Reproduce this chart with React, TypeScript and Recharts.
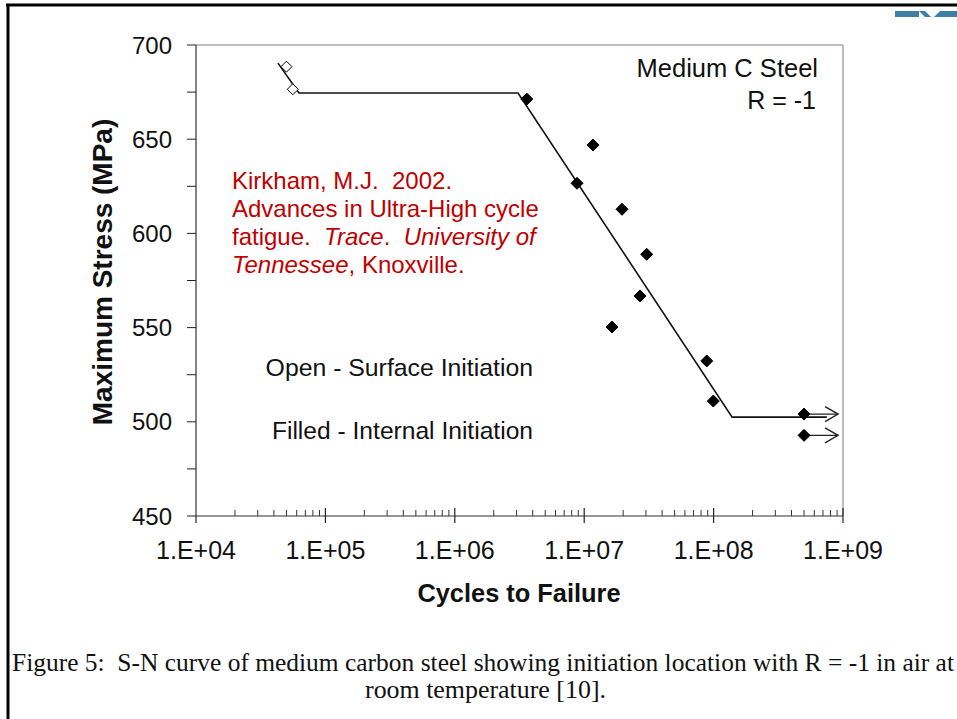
import React from "react";
import { ScatterChart, Scatter, XAxis, YAxis, ReferenceLine } from "recharts";

// axis ticks
const decades = [1e4, 1e5, 1e6, 1e7, 1e8, 1e9];
const decadeLabels = ["1.E+04", "1.E+05", "1.E+06", "1.E+07", "1.E+08", "1.E+09"];
const minorSteps = [2, 3, 4, 5, 6, 7, 8, 9];
const stressTicks = [450, 475, 500, 525, 550, 575, 600, 625, 650, 675, 700];

// open diamonds - surface initiation
const surfaceCycles = [5.0e4, 5.6e4];
const surfaceStress = [688.5, 676.5];

// filled diamonds - internal initiation
const internalCycles = [3.6e6, 1.17e7, 8.8e6, 1.96e7, 3.04e7, 2.7e7, 1.64e7, 8.85e7, 9.95e7, 5.0e8, 5.0e8];
const internalStress = [671.3, 646.9, 626.6, 612.8, 588.9, 566.8, 550.3, 532.3, 511.0, 504.1, 492.8];
const internalRunout = [false, false, false, false, false, false, false, false, false, true, true];

// fitted S-N curve
const curveCycles = [4.3e4, 6.25e4, 3.08e6, 1.39e8, 7.5e8];
const curveStress = [690.4, 674.5, 674.5, 502.5, 502.5];

const xTicks: number[] = [];
decades.forEach((d, i) => {
  xTicks.push(d);
  if (i < decades.length - 1) minorSteps.forEach((m) => xTicks.push(d * m));
});

const surfaceData = surfaceCycles.map((n, i) => ({ n, s: surfaceStress[i] }));
const internalData = internalCycles.map((n, i) => ({
  n,
  s: internalStress[i],
  runout: internalRunout[i],
}));
const curveData = curveCycles.map((n, i) => ({ n, s: curveStress[i] }));

const sans = "'Liberation Sans', Arial, sans-serif";
const serif = "'Liberation Serif', 'Times New Roman', serif";
const red = "#c00000";
const sp2 = "\u00a0 ";

const XTick = (props: any) => {
  const { x, y, payload } = props;
  const idx = decades.findIndex((d) => Math.abs(d - payload.value) < d * 1e-6);
  if (idx < 0) {
    return <line x1={x} x2={x} y1={y} y2={y - 6} stroke="#333" strokeWidth={1} />;
  }
  return (
    <g>
      <line x1={x} x2={x} y1={idx === 0 ? y : y - 8} y2={y + 7} stroke="#222" strokeWidth={1.2} />
      <text x={x} y={y + 43} textAnchor="middle" fontFamily={sans} fontSize={25} fill="#111">
        {decadeLabels[idx]}
      </text>
    </g>
  );
};

const YTick = (props: any) => {
  const { x, y, payload } = props;
  const major = payload.value % 50 === 0;
  return (
    <g>
      <line x1={x - 9} x2={x} y1={y} y2={y} stroke="#222" strokeWidth={1} />
      {major && (
        <text x={x - 24} y={y + 8.5} textAnchor="end" fontFamily={sans} fontSize={24} fill="#111">
          {payload.value}
        </text>
      )}
    </g>
  );
};

const Diamond = ({ cx, cy, open }: { cx: number; cy: number; open?: boolean }) => {
  const r = open ? 5.5 : 6;
  return (
    <polygon
      points={`${cx},${cy - r} ${cx + r},${cy} ${cx},${cy + r} ${cx - r},${cy}`}
      fill={open ? "#fff" : "#000"}
      stroke="#000"
      strokeWidth={1}
    />
  );
};

const InternalShape = (props: any) => {
  const { cx, cy, payload } = props;
  return (
    <g>
      {payload && payload.runout && (
        <g stroke="#222" strokeWidth={1.4} fill="none">
          <line x1={cx} x2={cx + 34} y1={cy} y2={cy} />
          <polyline points={`${cx + 21},${cy - 7.5} ${cx + 34},${cy} ${cx + 21},${cy + 7.5}`} />
        </g>
      )}
      <Diamond cx={cx} cy={cy} />
    </g>
  );
};

const SurfaceShape = (props: any) => <Diamond cx={props.cx} cy={props.cy} open />;

export default function App() {
  return (
    <div
      style={{
        position: "fixed",
        left: 0,
        top: 0,
        width: 957,
        height: 719,
        background: "#fff",
        overflow: "hidden",
      }}
    >
      <ScatterChart
        width={957}
        height={719}
        margin={{ top: 45, right: 114, bottom: 143, left: 136 }}
      >
        <XAxis
          dataKey="n"
          type="number"
          scale="log"
          domain={[1e4, 1e9]}
          ticks={xTicks}
          interval={0}
          allowDataOverflow
          height={60}
          tickSize={0}
          tickMargin={0}
          tickLine={false}
          axisLine={{ stroke: "#333", strokeWidth: 1.2 }}
          tick={<XTick />}
        />
        <YAxis
          dataKey="s"
          type="number"
          domain={[450, 700]}
          ticks={stressTicks}
          interval={0}
          allowDataOverflow
          width={60}
          tickSize={0}
          tickMargin={0}
          tickLine={false}
          axisLine={{ stroke: "#333", strokeWidth: 1.2 }}
          tick={<YTick />}
        />
        <ReferenceLine y={700} stroke="#a8a8a8" strokeWidth={1.5} />
        <ReferenceLine x={1e9} stroke="#a8a8a8" strokeWidth={1.5} />
        <Scatter
          data={curveData}
          line={{ stroke: "#111", strokeWidth: 1.6 }}
          shape={() => <g />}
          isAnimationActive={false}
        />
        <Scatter data={surfaceData} shape={<SurfaceShape />} isAnimationActive={false} />
        <Scatter data={internalData} shape={<InternalShape />} isAnimationActive={false} />
      </ScatterChart>

      <svg
        width={957}
        height={719}
        style={{ position: "absolute", left: 0, top: 0, pointerEvents: "none" }}
      >
        {/* page frame */}
        <line x1={6} x2={957} y1={5} y2={5} stroke="#000" strokeWidth={3} />
        <line x1={8} x2={8} y1={4} y2={719} stroke="#000" strokeWidth={3} />
        {/* partial logo at top right */}
        <g fill="#3b7ea6">
          <rect x={895} y={11} width={24} height={6} />
          <polygon points="919,11 925,11 931,17 925,17" />
          <polygon points="934,17 940,11 957,11 957,17" />
        </g>

        <g fontFamily={sans} fill="#111">
          <text x={818} y={77} textAnchor="end" fontSize={25.5}>Medium C Steel</text>
          <text x={816} y={109} textAnchor="end" fontSize={25}>R = -1</text>
          <text x={533} y={376} textAnchor="end" fontSize={24.8}>Open - Surface Initiation</text>
          <text x={533} y={439} textAnchor="end" fontSize={24.6}>Filled - Internal Initiation</text>
          <text x={519} y={602} textAnchor="middle" fontWeight="bold" fontSize={25.4}>
            Cycles to Failure
          </text>
          <text
            x={112}
            y={272}
            textAnchor="middle"
            fontWeight="bold"
            fontSize={28}
            transform="rotate(-90 112 272)"
          >
            Maximum Stress (MPa)
          </text>
        </g>

        <g fontFamily={sans} fontSize={24} fill={red}>
          <text x={232} y={189}>{`Kirkham, M.J.${sp2}2002.`}</text>
          <text x={232} y={217}>Advances in Ultra-High cycle</text>
          <text x={232} y={245}>
            {`fatigue.${sp2}`}
            <tspan fontStyle="italic">Trace</tspan>
            {`.${sp2}`}
            <tspan fontStyle="italic">University of</tspan>
          </text>
          <text x={232} y={273}>
            <tspan fontStyle="italic">Tennessee</tspan>, Knoxville.
          </text>
        </g>

        <g fontFamily={serif} fontSize={24.5} fill="#111">
          <text x={12} y={671} textLength={942} lengthAdjust="spacingAndGlyphs">
            {`Figure 5:${sp2}S-N curve of medium carbon steel showing initiation location with R = -1 in air at`}
          </text>
          <text x={365} y={698} textLength={241} lengthAdjust="spacingAndGlyphs">
            room temperature [10].
          </text>
        </g>
      </svg>
    </div>
  );
}
